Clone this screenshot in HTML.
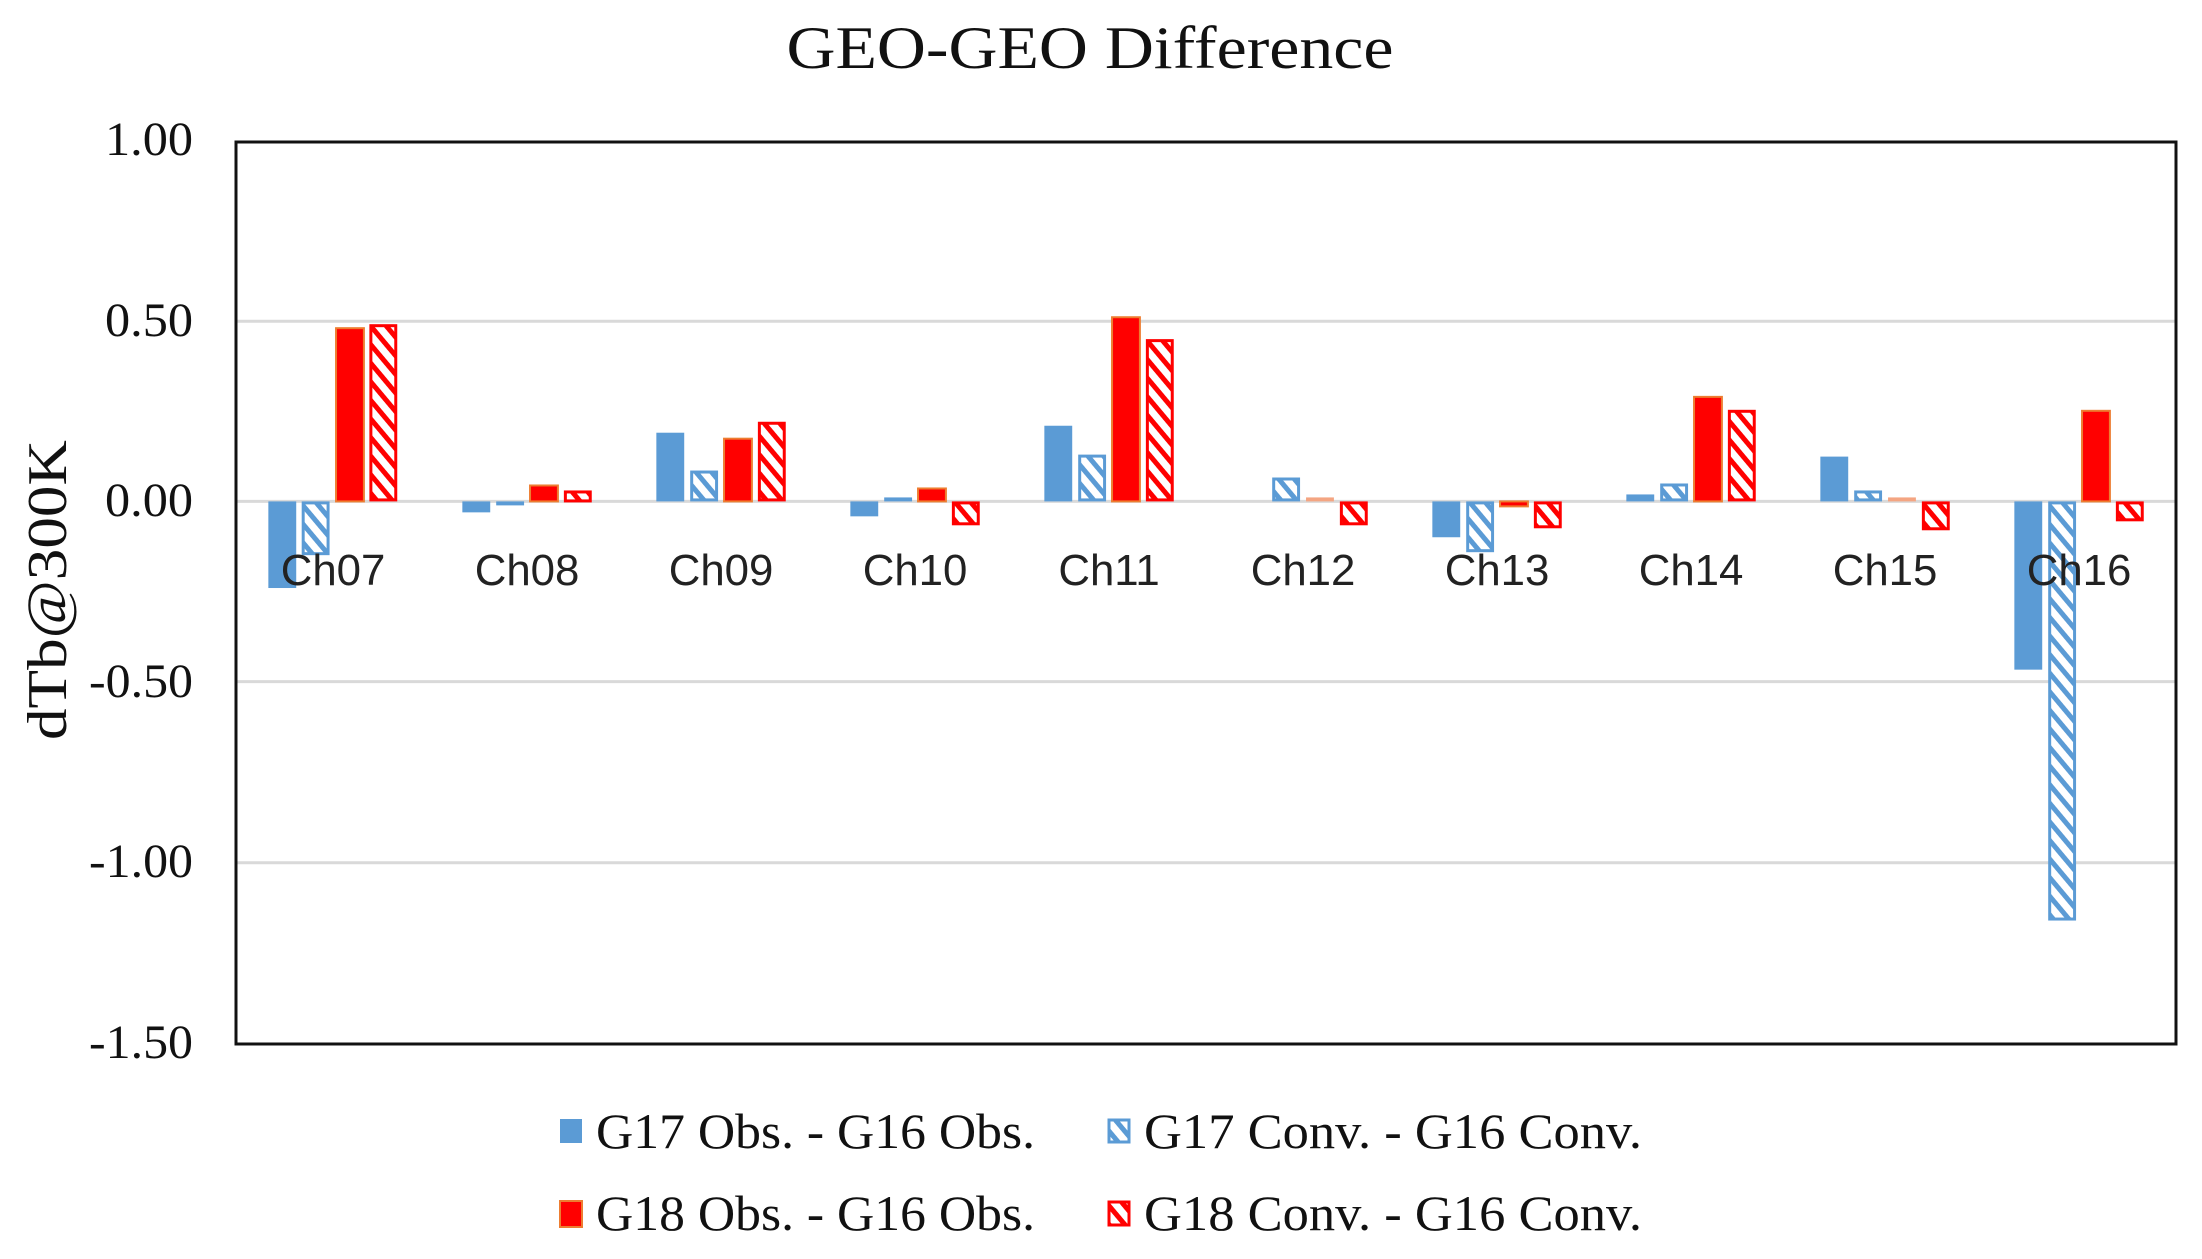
<!DOCTYPE html>
<html><head><meta charset="utf-8"><style>html,body{margin:0;padding:0;background:#fff}svg{display:block}</style></head>
<body>
<svg width="2202" height="1259" viewBox="0 0 2202 1259" xmlns="http://www.w3.org/2000/svg">
<defs>
<pattern id="hb" width="12" height="12" patternUnits="userSpaceOnUse" patternTransform="rotate(-40)">
<rect width="12" height="12" fill="#fff"/><rect x="0" y="0" width="5" height="12" fill="#5b9bd5"/></pattern>
<pattern id="hr" width="12" height="12" patternUnits="userSpaceOnUse" patternTransform="rotate(-40)">
<rect width="12" height="12" fill="#fff"/><rect x="0" y="0" width="5" height="12" fill="#ff0000"/></pattern>
</defs>
<rect width="2202" height="1259" fill="#fff"/>
<text x="1090" y="68" font-family="Liberation Serif, serif" font-size="60" text-anchor="middle" textLength="607" lengthAdjust="spacingAndGlyphs" fill="#111">GEO-GEO Difference</text>
<g transform="matrix(0.99538 0 0 0.99558 0.095 -0.368)">
<g stroke="#d9d9d9" stroke-width="3">
<line x1="237" y1="323" x2="2186" y2="323"/>
<line x1="237" y1="504" x2="2186" y2="504"/>
<line x1="237" y1="685" x2="2186" y2="685"/>
<line x1="237" y1="867" x2="2186" y2="867"/>
</g>
<g>
<rect x="269.5" y="504" width="28" height="87" fill="#5b9bd5"/>
<rect x="304.5" y="505.5" width="25" height="51" fill="url(#hb)" stroke="#5b9bd5" stroke-width="3"/>
<rect x="337.5" y="330" width="28" height="174" fill="#ff0000" stroke="#ed7d31" stroke-width="2"/>
<rect x="372.5" y="327.5" width="25" height="175" fill="url(#hr)" stroke="#ff0000" stroke-width="3"/>
<rect x="464.4" y="504" width="28" height="11" fill="#5b9bd5"/>
<rect x="498.4" y="504" width="28" height="4" fill="#5b9bd5"/>
<rect x="532.4" y="488" width="28" height="16" fill="#ff0000" stroke="#ed7d31" stroke-width="2"/>
<rect x="567.9" y="494.5" width="25" height="9" fill="url(#hr)" stroke="#ff0000" stroke-width="3"/>
<rect x="659.3" y="435" width="28" height="69" fill="#5b9bd5"/>
<rect x="694.8" y="474.5" width="25" height="28" fill="url(#hb)" stroke="#5b9bd5" stroke-width="3"/>
<rect x="727.3" y="441" width="28" height="63" fill="#ff0000" stroke="#ed7d31" stroke-width="2"/>
<rect x="762.8" y="425.5" width="25" height="77" fill="url(#hr)" stroke="#ff0000" stroke-width="3"/>
<rect x="854.2" y="504" width="28" height="15" fill="#5b9bd5"/>
<rect x="888.2" y="500" width="28" height="4" fill="#5b9bd5"/>
<rect x="922.2" y="491" width="28" height="13" fill="#ff0000" stroke="#ed7d31" stroke-width="2"/>
<rect x="957.7" y="505.5" width="25" height="21" fill="url(#hr)" stroke="#ff0000" stroke-width="3"/>
<rect x="1049.1" y="428" width="28" height="76" fill="#5b9bd5"/>
<rect x="1084.6" y="458.5" width="25" height="44" fill="url(#hb)" stroke="#5b9bd5" stroke-width="3"/>
<rect x="1117.1" y="319" width="28" height="185" fill="#ff0000" stroke="#ed7d31" stroke-width="2"/>
<rect x="1152.6" y="342.5" width="25" height="160" fill="url(#hr)" stroke="#ff0000" stroke-width="3"/>
<rect x="1279.5" y="481.5" width="25" height="21" fill="url(#hb)" stroke="#5b9bd5" stroke-width="3"/>
<rect x="1312" y="500" width="28" height="4" fill="#f4a582"/>
<rect x="1347.5" y="505.5" width="25" height="21" fill="url(#hr)" stroke="#ff0000" stroke-width="3"/>
<rect x="1438.9" y="504" width="28" height="36" fill="#5b9bd5"/>
<rect x="1474.4" y="505.5" width="25" height="48" fill="url(#hb)" stroke="#5b9bd5" stroke-width="3"/>
<rect x="1506.9" y="504" width="28" height="5" fill="#ff0000" stroke="#ed7d31" stroke-width="2"/>
<rect x="1542.4" y="505.5" width="25" height="24" fill="url(#hr)" stroke="#ff0000" stroke-width="3"/>
<rect x="1633.8" y="497" width="28" height="7" fill="#5b9bd5"/>
<rect x="1669.3" y="487.5" width="25" height="15" fill="url(#hb)" stroke="#5b9bd5" stroke-width="3"/>
<rect x="1701.8" y="399" width="28" height="105" fill="#ff0000" stroke="#ed7d31" stroke-width="2"/>
<rect x="1737.3" y="413.5" width="25" height="89" fill="url(#hr)" stroke="#ff0000" stroke-width="3"/>
<rect x="1828.7" y="459" width="28" height="45" fill="#5b9bd5"/>
<rect x="1864.2" y="494.5" width="25" height="8" fill="url(#hb)" stroke="#5b9bd5" stroke-width="3"/>
<rect x="1896.7" y="500" width="28" height="4" fill="#f4a582"/>
<rect x="1932.2" y="505.5" width="25" height="26" fill="url(#hr)" stroke="#ff0000" stroke-width="3"/>
<rect x="2023.6" y="504" width="28" height="169" fill="#5b9bd5"/>
<rect x="2059.1" y="505.5" width="25" height="418" fill="url(#hb)" stroke="#5b9bd5" stroke-width="3"/>
<rect x="2091.6" y="413" width="28" height="91" fill="#ff0000" stroke="#ed7d31" stroke-width="2"/>
<rect x="2127.1" y="505.5" width="25" height="17" fill="url(#hr)" stroke="#ff0000" stroke-width="3"/>
</g>
<g font-family="Liberation Sans, sans-serif" font-size="44" text-anchor="middle" fill="#222">
<text x="334.5" y="588">Ch07</text>
<text x="529.4" y="588">Ch08</text>
<text x="724.3" y="588">Ch09</text>
<text x="919.2" y="588">Ch10</text>
<text x="1114.1" y="588">Ch11</text>
<text x="1309" y="588">Ch12</text>
<text x="1503.9" y="588">Ch13</text>
<text x="1698.8" y="588">Ch14</text>
<text x="1893.7" y="588">Ch15</text>
<text x="2088.6" y="588">Ch16</text>
</g>
<rect x="237" y="143" width="1949" height="906" fill="none" stroke="#111" stroke-width="3"/>
</g>
<g font-family="Liberation Serif, serif" font-size="48" text-anchor="end" fill="#111">
<text x="193" y="155" textLength="88" lengthAdjust="spacingAndGlyphs">1.00</text>
<text x="193" y="336" textLength="88" lengthAdjust="spacingAndGlyphs">0.50</text>
<text x="193" y="516" textLength="88" lengthAdjust="spacingAndGlyphs">0.00</text>
<text x="193" y="697" textLength="104" lengthAdjust="spacingAndGlyphs">-0.50</text>
<text x="193" y="877" textLength="104" lengthAdjust="spacingAndGlyphs">-1.00</text>
<text x="193" y="1058" textLength="104" lengthAdjust="spacingAndGlyphs">-1.50</text>
</g>
<text transform="translate(66,590) rotate(-90)" font-family="Liberation Serif, serif" font-size="56" text-anchor="middle" textLength="300" lengthAdjust="spacingAndGlyphs" fill="#111">dTb@300K</text>
<g font-family="Liberation Serif, serif" font-size="50" fill="#111">
<rect x="560" y="1119" width="22" height="24" fill="#5b9bd5"/>
<text x="596" y="1148" textLength="439" lengthAdjust="spacingAndGlyphs">G17 Obs. - G16 Obs.</text>
<rect x="1109" y="1120" width="20" height="22" fill="url(#hb)" stroke="#5b9bd5" stroke-width="3"/>
<text x="1144" y="1148" textLength="498" lengthAdjust="spacingAndGlyphs">G17 Conv. - G16 Conv.</text>
<rect x="560" y="1201" width="22" height="26" fill="#ff0000" stroke="#ed7d31" stroke-width="2"/>
<text x="596" y="1230" textLength="439" lengthAdjust="spacingAndGlyphs">G18 Obs. - G16 Obs.</text>
<rect x="1109" y="1202" width="20" height="23" fill="url(#hr)" stroke="#ff0000" stroke-width="3"/>
<text x="1144" y="1230" textLength="498" lengthAdjust="spacingAndGlyphs">G18 Conv. - G16 Conv.</text>
</g>
</svg>
</body></html>
